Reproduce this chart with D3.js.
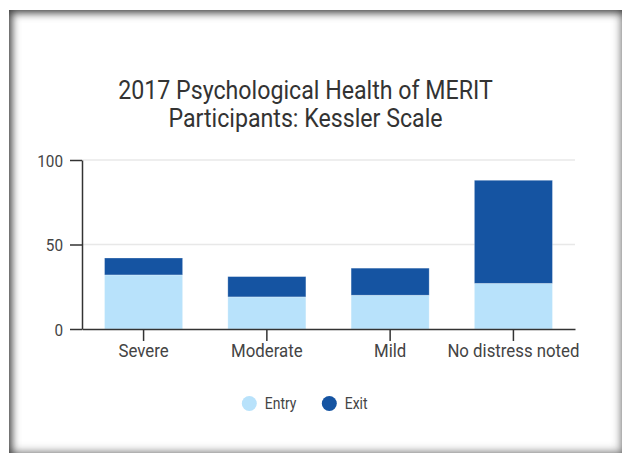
<!DOCTYPE html>
<html>
<head>
<meta charset="utf-8">
<script src="https://cdn.jsdelivr.net/npm/d3@7"></script>
<style>
    body { margin: 0; background: #fff; width: 622px; height: 453px; overflow: hidden; position: relative; }
    #frame {
        position: absolute; left: 9px; top: 10px; width: 613px; height: 443px;
        background: #fff;
        box-shadow: inset 3px 3px 9px rgba(0,0,0,0.7), inset -2px -2px 10px rgba(0,0,0,0.3);
    }
    svg { position: absolute; left: 0; top: 0; font-family: Roboto, sans-serif; }
</style>
</head>
<body>
<div id="frame"></div>
<svg id="chart" width="622" height="453"></svg>
<script>
// chart data
const categories = ["Severe", "Moderate", "Mild", "No distress noted"];
const entry = [32, 19, 20, 27];
const exit = [10, 12, 16, 61];
const yTicks = [0, 50, 100];
const seriesNames = ["Entry", "Exit"];
const colors = ["#b8e2fb", "#1554a2"];

const svg = d3.select("#chart");

// helper to draw condensed text at a point (font looks condensed, squash Roboto)
function label(g, x, y, txt, size, anchor, fill, sq) {
    return g.append("text")
        .attr("transform", `translate(${x},${y}) scale(${sq},1)`)
        .attr("text-anchor", anchor)
        .attr("font-size", size)
        .attr("fill", fill)
        .text(txt);
}

// title
label(svg, 305.5, 99.3, "2017 Psychological Health of MERIT", 26.5, "middle", "#333", 0.875);
label(svg, 305.5, 127.3, "Participants: Kessler Scale", 26.5, "middle", "#333", 0.875);

// scales
const x = d3.scaleBand().domain(categories).range([82, 575]).paddingInner(0.367).paddingOuter(0.183);
const y = d3.scaleLinear().domain([0, 100]).range([329, 160]);

// gridlines
svg.append("g").selectAll("line")
    .data(yTicks.filter(d => d > 0))
    .join("line")
    .attr("x1", 82).attr("x2", 575)
    .attr("y1", d => y(d)).attr("y2", d => y(d))
    .attr("stroke", "#e8e8e8").attr("stroke-width", 1.3);

// stacked bars
const rows = categories.map((c, i) => ({ cat: c, Entry: entry[i], Exit: exit[i] }));
const stacked = d3.stack().keys(seriesNames)(rows);

svg.append("g").selectAll("g")
    .data(stacked)
    .join("g")
    .attr("fill", (d, i) => colors[i])
    .selectAll("rect")
    .data(d => d)
    .join("rect")
    .attr("x", d => x(d.data.cat))
    .attr("width", x.bandwidth())
    .attr("y", d => y(d[1]))
    .attr("height", d => y(d[0]) - y(d[1]))
    .attr("stroke", "rgba(255,255,255,0.3)")
    .attr("stroke-width", 0.8);

// y axis
const yAxis = svg.append("g").attr("transform", "translate(82,0)")
    .call(d3.axisLeft(y).tickValues(yTicks).tickSize(12).tickSizeOuter(0));
yAxis.select(".domain").attr("stroke", "#333").attr("stroke-width", 1.5);
yAxis.selectAll(".tick line").attr("stroke", "#333").attr("stroke-width", 1.5);
yAxis.selectAll(".tick text")
    .attr("x", null).attr("dy", null)
    .attr("transform", "translate(-19,6) scale(0.9,1)")
    .attr("font-family", "Roboto, sans-serif")
    .attr("font-size", 17).attr("fill", "#444");

// x axis
const xAxis = svg.append("g").attr("transform", "translate(0,329)")
    .call(d3.axisBottom(x).tickSize(12).tickSizeOuter(0));
xAxis.select(".domain").attr("stroke", "#333").attr("stroke-width", 1.5);
xAxis.selectAll(".tick line").attr("stroke", "#333").attr("stroke-width", 1.5);
xAxis.selectAll(".tick text")
    .attr("y", null).attr("dy", null)
    .attr("transform", "translate(0,27.5) scale(0.96,1)")
    .attr("font-family", "Roboto, sans-serif")
    .attr("font-size", 17.5).attr("fill", "#444");

// legend
const legendX = [249.3, 329.3];
const legend = svg.append("g").selectAll("g")
    .data(seriesNames)
    .join("g")
    .attr("transform", (d, i) => `translate(${legendX[i]},403.5)`);
legend.append("circle").attr("r", 7.5).attr("fill", (d, i) => colors[i]);
legend.each(function(d) {
    label(d3.select(this), 15.5, 5.7, d, 16, "start", "#444", 0.87);
});
</script>
</body>
</html>
